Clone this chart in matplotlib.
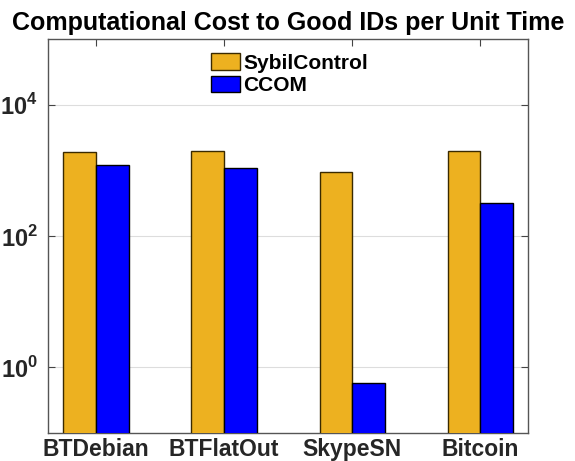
import numpy as np
import matplotlib
matplotlib.use("Agg")
import matplotlib.pyplot as plt

plt.rcParams['font.family'] = ['Liberation Sans', 'DejaVu Sans']
plt.rcParams['font.weight'] = 'bold'
plt.rcParams['mathtext.fontset'] = 'custom'
plt.rcParams['mathtext.rm'] = 'Liberation Sans:bold'
plt.rcParams['mathtext.bf'] = 'Liberation Sans:bold'

# values (log scale)
datasets = ["BTDebian", "BTFlatOut", "SkypeSN", "Bitcoin"]
sybilcontrol = [1890, 1960, 950, 1980]
ccom = [1230, 1080, 0.57, 322]
yticks = [1e0, 1e2, 1e4]
ytick_labels = ["$10^0$", "$10^2$", "$10^4$"]

orange = "#EDB120"
blue = "#0000FF"
axcol = "#262626"

fig = plt.figure(figsize=(5.75, 4.61), dpi=100)
ax = fig.add_axes([0.083, 0.0614, 0.836, 0.8534])

x = np.arange(1, len(datasets) + 1)
w = 0.255
ax.bar(x - w/2, sybilcontrol, w, color=orange, edgecolor="#3a2a00", linewidth=1.0,
       label="SybilControl", zorder=3)
ax.bar(x + w/2, ccom, w, color=blue, edgecolor="black", linewidth=1.0,
       label="CCOM", zorder=3)

ax.set_yscale("log")
ax.set_ylim(0.1, 1e5)
ax.set_xlim(0.623, 4.375)
ax.set_yticks(yticks)
ax.set_yticklabels(ytick_labels)
ax.yaxis.set_minor_locator(matplotlib.ticker.NullLocator())
ax.set_xticks(x)
ax.set_xticklabels(datasets)

ax.grid(axis="y", color="#dddddd", linewidth=0.8, zorder=0)
ax.tick_params(axis="both", direction="in", top=True, right=True, length=5,
               width=0.8, color="#444444", labelcolor=axcol, labelsize=16.5, pad=4)
ax.tick_params(axis="y", labelsize=17, pad=7)
for s in ax.spines.values():
    s.set_color("#555555")
    s.set_linewidth(1.0)

ax.set_title("Computational Cost to Good IDs per Unit Time", fontsize=18,
             fontweight="bold", pad=7)

ax.legend(loc="upper left", bbox_to_anchor=(0.316, 0.993), frameon=False,
          fontsize=15, handlelength=1.4, handleheight=0.85, handletextpad=0.15,
          labelspacing=0.12, borderaxespad=0.25, borderpad=0.3)

fig.savefig("out.png", dpi=100)
